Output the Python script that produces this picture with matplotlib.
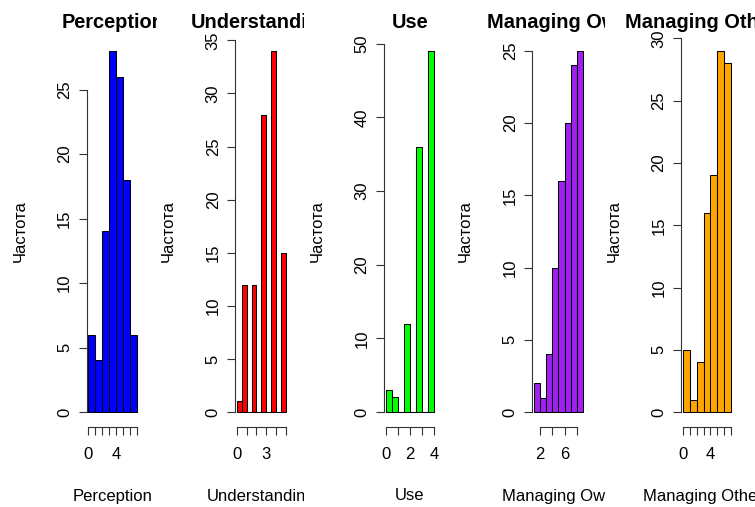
import matplotlib
matplotlib.use("Agg")
import matplotlib.pyplot as plt
import numpy as np
from matplotlib.transforms import Bbox, TransformedBbox

plt.rcParams['font.family'] = ['Liberation Sans', 'DejaVu Sans']

# histogram data (bin edges + counts)
titles = ["Perception", "Understanding", "Use", "Managing Own", "Managing Others"]
colors = ["#0000FF", "#FF0000", "#00FF00", "#A020F0", "#FFA500"]

perception_edges = [0, 1, 2, 3, 4, 5, 6, 7]
perception_counts = [6, 4, 14, 28, 26, 18, 6]

understanding_edges = [0, 0.5, 1, 1.5, 2, 2.5, 3, 3.5, 4, 4.5, 5]
understanding_counts = [1, 12, 0, 12, 0, 28, 0, 34, 0, 15]

use_edges = [0, 0.5, 1, 1.5, 2, 2.5, 3, 3.5, 4]
use_counts = [3, 2, 0, 12, 0, 36, 0, 49]

own_edges = [1, 2, 3, 4, 5, 6, 7, 8, 9]
own_counts = [2, 1, 4, 10, 16, 20, 24, 25]

others_edges = [0, 1, 2, 3, 4, 5, 6, 7]
others_counts = [5, 1, 4, 16, 19, 29, 28]

all_edges = [perception_edges, understanding_edges, use_edges, own_edges, others_edges]
all_counts = [perception_counts, understanding_counts, use_counts, own_counts, others_counts]

xtick_pos = [list(range(0, 8)), list(range(0, 6)), list(range(0, 5)), [2, 4, 6, 8], list(range(0, 8))]
xtick_shown = [[0, 4], [0, 3], [0, 2, 4], [2, 6], [0, 4]]
ytick_max = [25, 35, 50, 25, 30]
ytick_step = [5, 5, 10, 5, 5]

ylab = "Частота"

W, H = 755, 507
fig = plt.figure(figsize=(W / 100, H / 100), dpi=100)

top, bottom = 36.5, 426.5
plot_w = 52.6
lefts = [86.5 + 148.55 * i for i in range(5)]
clip_right = [157, 304, 454, 605, 755]
clip_left = [0, 157, 304, 454, 605]

fs = 12
for i in range(5):
    left = lefts[i]
    ax = fig.add_axes([left / W, 1 - bottom / H, plot_w / W, (bottom - top) / H])
    edges = np.array(all_edges[i], dtype=float)
    counts = all_counts[i]
    ax.bar(edges[:-1], counts, width=np.diff(edges), align='edge',
           color=colors[i], edgecolor='black', linewidth=0.75)
    r = edges[-1] - edges[0]
    ax.set_xlim(edges[0] - 0.04 * r, edges[-1] + 0.04 * r)
    m = max(counts)
    ax.set_ylim(-0.04 * m, 1.04 * m)

    for s in ['top', 'right']:
        ax.spines[s].set_visible(False)
    ax.spines['left'].set_bounds(0, ytick_max[i])
    ax.spines['bottom'].set_bounds(xtick_pos[i][0], xtick_pos[i][-1])
    for s in ['left', 'bottom']:
        ax.spines[s].set_linewidth(0.8)
        ax.spines[s].set_color('#333333')

    yt = list(range(0, ytick_max[i] + 1, ytick_step[i]))
    ax.set_yticks(yt)
    ax.set_yticklabels([str(v) for v in yt], rotation=90, va='center')
    ax.set_xticks(xtick_pos[i])
    ax.set_xticklabels([str(v) if v in xtick_shown[i] else '' for v in xtick_pos[i]])
    ax.tick_params(axis='both', direction='out', length=5.8, width=0.8,
                   color='#333333', labelsize=fs)
    ax.tick_params(axis='y', pad=4.5)
    ax.tick_params(axis='x', pad=9)

    # titles and x labels are cut at the panel edge, like in the original
    cbox = TransformedBbox(Bbox.from_extents(clip_left[i] / W, 0, clip_right[i] / W, 1),
                           fig.transFigure)
    cx = left + plot_w / 2
    t = fig.text(cx / W, 1 - 27.5 / H, titles[i], ha='center', va='baseline',
                 fontsize=14.4, fontweight='bold')
    t.set_clip_box(cbox)
    t.set_clip_on(True)
    xl = fig.text(cx / W, 1 - 500.5 / H, titles[i], ha='center', va='baseline', fontsize=fs)
    xl.set_clip_box(cbox)
    xl.set_clip_on(True)
    fig.text((left - 66.5) / W, 1 - ((top + bottom) / 2) / H, ylab, rotation=90,
             ha='center', va='center', fontsize=fs)

fig.savefig("out.png", dpi=100)
